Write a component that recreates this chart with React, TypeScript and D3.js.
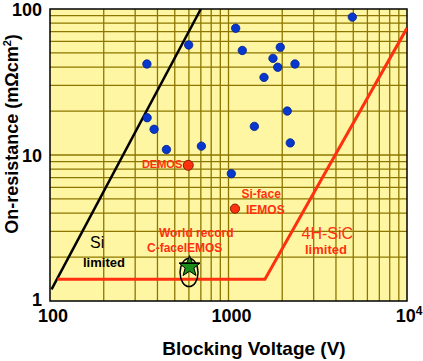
import React from 'react'
import * as d3 from 'd3'

// blocking voltage (V) and on-resistance (mOhm cm2) of reported devices
const deviceVoltage = [349, 598, 350, 383, 449, 705, 4940, 1097, 1195, 1950, 1775, 1888, 2358, 1581, 2134, 1396, 2218, 1037]
const deviceResistance = [42, 56.7, 18, 15, 10.9, 11.5, 88, 73.8, 52, 54.7, 45.9, 39.9, 42, 34, 20, 15.7, 12.1, 7.45]

const siLimitVoltage = [102, 700]
const siLimitResistance = [1.2, 100]

const sicLimitVoltage = [110, 1600, 10000]
const sicLimitResistance = [1.41, 1.41, 74]

const demos = { v: 595, r: 8.5 }
const siFace = { v: 1087, r: 4.29 }
const record = { v: 605, r: 1.72 }

const xTicks = [100, 1000, 10000]
const yTicks = [1, 10, 100]

const width = 423
const height = 361
const left = 50
const right = 407
const top = 9
const bottom = 301

const x = d3.scaleLog().domain([100, 10000]).range([left, right])
const y = d3.scaleLog().domain([1, 100]).range([bottom, top])

const gridColor = '#8c7600'
const red = '#ff3010'

const minorX = [100, 1000].flatMap(b => d3.range(2, 10).map(k => k * b))
const minorY = [1, 10].flatMap(b => d3.range(2, 10).map(k => k * b))

const line = d3
  .line<[number, number]>()
  .x(d => x(d[0]))
  .y(d => y(d[1]))

function starPath(cx: number, cy: number, r: number) {
  const inner = r * 0.42
  const pts: string[] = []
  for (let i = 0; i < 10; i++) {
    const a = -Math.PI / 2 + (i * Math.PI) / 5
    const rr = i % 2 === 0 ? r : inner
    pts.push(`${cx + rr * Math.cos(a)},${cy + rr * Math.sin(a)}`)
  }
  return 'M' + pts.join('L') + 'Z'
}

export default function App() {
  const sx = x(record.v)
  const sy = y(record.r)
  const sr = 11
  const armY = sy - sr * Math.cos((72 * Math.PI) / 180)
  const armX = sr * Math.sin((72 * Math.PI) / 180)
  return (
    <svg
      width={width}
      height={height}
      style={{ position: 'absolute', left: 0, top: 0 }}
      fontFamily="Arial, 'Liberation Sans', sans-serif"
    >
      <defs>
        <clipPath id="plot">
          <rect x={left} y={top} width={right - left} height={bottom - top} />
        </clipPath>
      </defs>
      <rect x={left} y={top} width={right - left} height={bottom - top} fill="#fff6a3" />
      {minorX.concat([1000]).map(v => (
        <line key={'gx' + v} x1={x(v)} x2={x(v)} y1={top} y2={bottom} stroke={gridColor} strokeWidth={1.3} />
      ))}
      {minorY.concat([10]).map(v => (
        <line key={'gy' + v} x1={left} x2={right} y1={y(v)} y2={y(v)} stroke={gridColor} strokeWidth={1.3} />
      ))}
      <rect x={left} y={top} width={right - left} height={bottom - top} fill="none" stroke="#000" strokeWidth={1.5} />

      <g clipPath="url(#plot)">
        <path
          d={line(siLimitVoltage.map((v, i) => [v, siLimitResistance[i]]))!}
          fill="none"
          stroke="#000"
          strokeWidth={2.5}
        />
        <path
          d={line(sicLimitVoltage.map((v, i) => [v, sicLimitResistance[i]]))!}
          fill="none"
          stroke={red}
          strokeWidth={3}
        />
      </g>

      {deviceVoltage.map((v, i) => (
        <circle key={i} cx={x(v)} cy={y(deviceResistance[i])} r={4.2} fill="#0638d0" stroke="#00208a" strokeWidth={0.8} />
      ))}

      <circle cx={x(demos.v)} cy={y(demos.r)} r={5} fill={red} stroke="#802000" strokeWidth={1} />
      <circle cx={x(siFace.v)} cy={y(siFace.r)} r={4.6} fill={red} stroke="#802000" strokeWidth={1} />

      <ellipse cx={sx - 0.5} cy={sy + 6} rx={9} ry={14} fill="none" stroke="#000" strokeWidth={1.5} />
      <path d={starPath(sx, sy, sr)} fill="#1a8c1a" stroke="#000" strokeWidth={1} />
      <line x1={sx - armX} x2={sx + armX} y1={armY} y2={armY} stroke="#000" strokeWidth={1.5} />

      <g fill={red} fontWeight="bold">
        <text x={x(demos.v) - 6} y={168} textAnchor="end" fontSize={11}>DEMOS</text>
        <text x={241.5} y={198} fontSize={12}>Si-face</text>
        <text x={246} y={213.5} fontSize={12}>IEMOS</text>
        <text x={159} y={236.5} fontSize={12}>World record</text>
        <text x={147} y={251.5} fontSize={12}>C-faceIEMOS</text>
        <text x={305} y={253.5} fontSize={13}>limited</text>
      </g>
      <text x={301.5} y={238.5} fill={red} fontSize={16}>4H-SiC</text>
      <text x={90} y={248} fontSize={16}>Si</text>
      <text x={83} y={266.5} fontSize={13} fontWeight="bold">limited</text>

      <g fontWeight="bold" fontSize={18}>
        {yTicks.map(t => (
          <text key={'yt' + t} x={42} y={y(t) + (t === 1 ? 4.5 : 6.5)} textAnchor="end">{t}</text>
        ))}
        {xTicks.slice(0, 2).map(t => (
          <text key={'xt' + t} x={x(t) + 3} y={322} textAnchor="middle">{t}</text>
        ))}
        <text x={x(10000) + 2} y={322} textAnchor="middle">
          10<tspan fontSize={12} dy={-7}>4</tspan>
        </text>
        <text x={254} y={355} textAnchor="middle" fontSize={19}>Blocking Voltage (V)</text>
        <text transform={`translate(18,134) rotate(-90)`} textAnchor="middle" fontSize={18}>
          On-resistance (mΩcm<tspan fontSize={11} dy={-7}>2</tspan><tspan dy={7}>)</tspan>
        </text>
      </g>
    </svg>
  )
}
